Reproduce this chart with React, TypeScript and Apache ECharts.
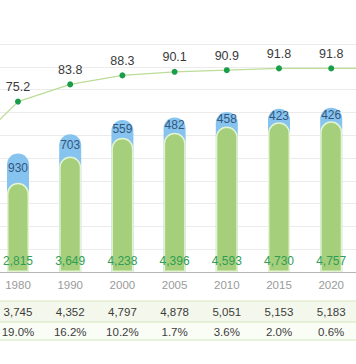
import React, { useEffect, useRef } from "react";
import * as echarts from "echarts";

// visible categories
const years = ["1980", "1990", "2000", "2005", "2010", "2015", "2020"];
// green (lower) bar values
const greenValues = [2815, 3649, 4238, 4396, 4593, 4730, 4757];
// blue (upper) bar values
const blueValues = [930, 703, 559, 482, 458, 423, 426];
// totals (table row 1)
const totals = [3745, 4352, 4797, 4878, 5051, 5153, 5183];
// table row 2
const rates = ["19.0%", "16.2%", "10.2%", "1.7%", "3.6%", "2.0%", "0.6%"];
// line series
const lineValues = [75.2, 83.8, 88.3, 90.1, 90.9, 91.8, 91.8];
// line points just outside the cropped view (estimated)
const lineBefore = 49.5;
const lineAfter = 91.8;

const FONT = "Liberation Sans, Arial, sans-serif";
const OFFSET_X = 70;
const CHART_W = 356 + 2 * OFFSET_X;

export default function App() {
  const ref = useRef<HTMLDivElement>(null);
  useEffect(() => {
    if (!ref.current) return;
    const chart = echarts.init(ref.current, undefined, { renderer: "svg" });
    const cats = ["", ...years, " "];
    const pad = (arr: any[]) => ["-", ...arr, "-"];
    const totalLabels = ["", ...totals.map((v) => v.toLocaleString("en-US")), " "];
    const rateLabels = ["", ...rates, " "];
    const lineData = [
      { value: lineBefore, label: { show: false } },
      ...lineValues.map((v) => ({ value: v })),
      { value: lineAfter, label: { show: false } },
    ];
    const gridLeft = OFFSET_X + 18 - 52.2 * 1.5;
    const gridW = 52.2 * 9;
    chart.setOption({
      animation: false,
      textStyle: { fontFamily: FONT },
      grid: {
        left: gridLeft,
        width: gridW,
        top: 44,
        bottom: 364 - 272,
      },
      graphic: [
        {
          type: "rect",
          shape: { x: 0, y: 301, width: CHART_W, height: 21 },
          style: { fill: "#f4f8ec" },
          z: -10,
        },
        {
          type: "rect",
          shape: { x: 0, y: 322, width: CHART_W, height: 18 },
          style: { fill: "#fafcf6" },
          z: -10,
        },
        {
          type: "line",
          shape: { x1: 0, y1: 301, x2: CHART_W, y2: 301 },
          style: { stroke: "#d3e6bd", lineWidth: 1 },
        },
        {
          type: "line",
          shape: { x1: 0, y1: 322, x2: CHART_W, y2: 322 },
          style: { stroke: "#d3e6bd", lineWidth: 1 },
        },
        {
          type: "line",
          shape: { x1: 0, y1: 340, x2: CHART_W, y2: 340 },
          style: { stroke: "#d3e6bd", lineWidth: 1 },
        },
      ],
      xAxis: [
        {
          type: "category",
          data: cats,
          axisTick: { show: false },
          axisLine: { lineStyle: { color: "#b5b5b5", width: 1 } },
          axisLabel: { interval: 0, margin: 7, fontSize: 11.5, color: "#9a9a9a", fontFamily: FONT },
        },
        {
          type: "category",
          data: totalLabels,
          position: "bottom",
          offset: 34,
          axisTick: { show: false },
          axisLine: { show: false },
          axisLabel: { interval: 0, margin: 0, fontSize: 11.5, color: "#3c3c3c", fontFamily: FONT },
        },
        {
          type: "category",
          data: rateLabels,
          position: "bottom",
          offset: 54,
          axisTick: { show: false },
          axisLine: { show: false },
          axisLabel: { interval: 0, margin: 0, fontSize: 11.5, color: "#3c3c3c", fontFamily: FONT },
        },
      ],
      yAxis: [
        {
          type: "value",
          min: 0,
          max: 7200,
          interval: 720,
          axisLabel: { show: false },
          axisLine: { show: false },
          axisTick: { show: false },
          splitLine: { lineStyle: { color: "#ebebeb", width: 1 } },
        },
        {
          type: "value",
          min: -10,
          max: 104,
          axisLabel: { show: false },
          axisLine: { show: false },
          axisTick: { show: false },
          splitLine: { show: false },
        },
      ],
      series: [
        {
          type: "bar",
          name: "total",
          data: pad(totals),
          barWidth: 22,
          barGap: "-100%",
          itemStyle: { color: "#86c4ef", borderRadius: [11, 11, 0, 0] },
          z: 2,
        },
        {
          type: "bar",
          name: "green",
          stack: "g",
          data: pad(greenValues),
          barWidth: 22,
          barGap: "-100%",
          itemStyle: {
            color: "#a6cf7b",
            borderRadius: [11, 11, 0, 0],
            borderColor: "#e4f3d2",
            borderWidth: 1.5,
          },
          label: {
            show: true,
            position: "insideBottom",
            distance: 5,
            fontSize: 12,
            color: "#2f9d57",
            fontFamily: FONT,
            formatter: (p: any) => Number(p.value).toLocaleString("en-US"),
          },
          z: 3,
        },
        {
          type: "bar",
          name: "blue",
          stack: "g",
          data: pad(blueValues),
          barWidth: 22,
          barGap: "-100%",
          itemStyle: { color: "transparent" },
          label: {
            show: true,
            position: "inside",
            fontSize: 12,
            color: "#34567c",
            fontFamily: FONT,
          },
          z: 4,
        },
        {
          type: "line",
          yAxisIndex: 1,
          data: lineData,
          symbol: "circle",
          symbolSize: 6,
          lineStyle: { color: "#bcdc98", width: 1.3 },
          itemStyle: { color: "#1a9d4b" },
          label: {
            show: true,
            position: "top",
            distance: 5,
            fontSize: 12.5,
            color: "#3a3a3a",
            fontFamily: FONT,
          },
          z: 5,
        },
      ],
    });
    return () => chart.dispose();
  }, []);
  return (
    <div
      style={{
        position: "fixed",
        left: 0,
        top: 0,
        width: 356,
        height: 364,
        overflow: "hidden",
        background: "#fff",
      }}
    >
      <div
        ref={ref}
        style={{ position: "absolute", left: -OFFSET_X, top: 0, width: CHART_W, height: 364 }}
      />
    </div>
  );
}
